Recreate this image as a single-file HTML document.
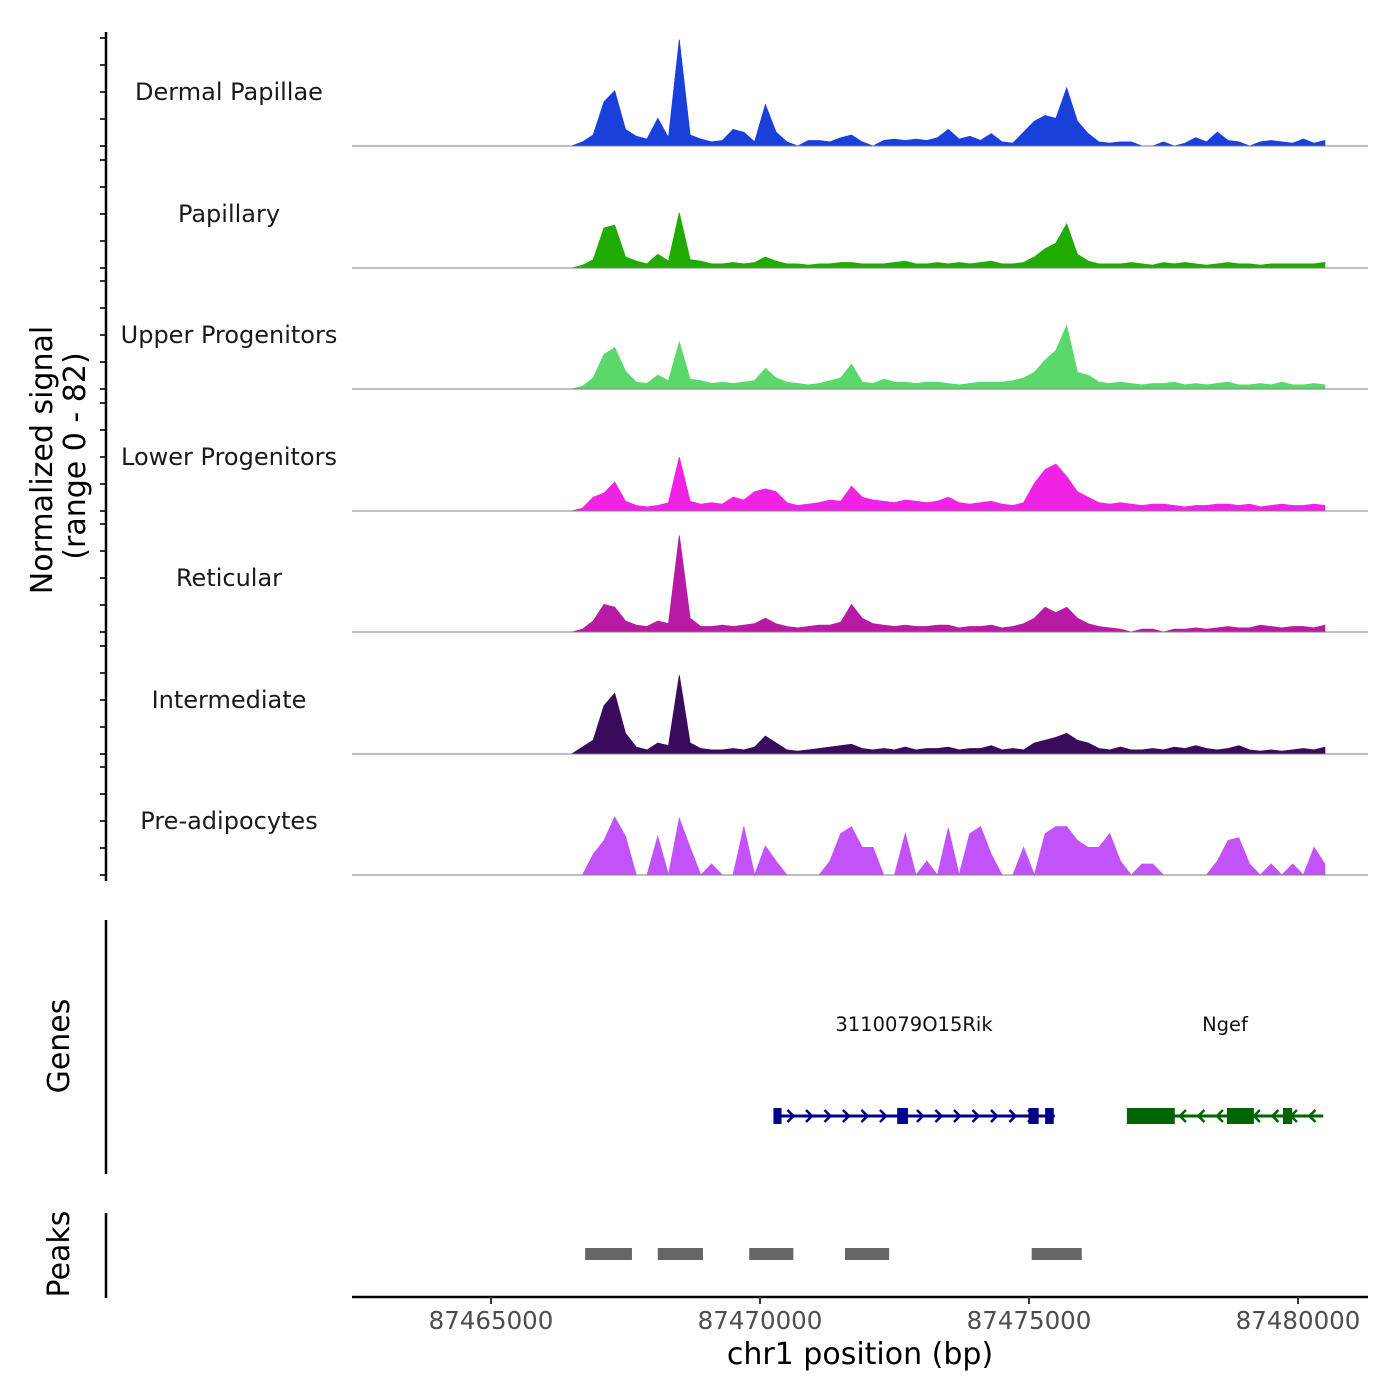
<!DOCTYPE html>
<html><head><meta charset="utf-8"><style>
body{margin:0;background:#fff}
svg{display:block;font-family:"DejaVu Sans","Liberation Sans",sans-serif}
</style></head><body>
<svg id="chart" width="1400" height="1400" viewBox="0 0 1400 1400" xmlns="http://www.w3.org/2000/svg">
<g id="tracks"></g>
<g id="genes"></g>
<g id="peaks"></g>
<g id="axes"></g>
</svg>
<script>
const trackNames = ["Dermal Papillae","Papillary","Upper Progenitors","Lower Progenitors","Reticular","Intermediate","Pre-adipocytes"];
const trackColors = ["#1a40dc","#1fab00","#5ad86a","#f022e6","#b81aa6","#3a0b5c","#c253fb"];
const binStart = 87466500;
const binSize = 200;
const dermal = [0,3,8,32,40,12,7,5,20,6,77,8,5,3,4,12,10,3,30,10,3,0,4,4,3,6,8,3,0,4,5,4,5,4,6,12,5,7,4,9,3,2,10,18,22,20,42,18,9,3,2,3,3,0,0,3,0,2,6,3,10,4,3,0,3,4,3,2,5,2,4];
const papillary = [0,2,6,29,31,8,5,3,10,5,40,6,5,3,3,4,3,4,8,5,3,3,2,3,3,4,4,3,3,3,4,5,3,3,4,3,4,3,4,5,3,3,4,8,14,18,32,10,5,3,3,3,4,3,2,4,3,4,3,2,3,4,3,3,2,3,3,3,3,3,4];
const upper = [0,2,8,25,30,13,5,4,10,6,34,7,6,4,5,4,5,6,15,8,5,4,3,4,6,8,18,5,4,7,5,5,4,5,5,4,3,4,5,5,5,6,8,12,21,28,46,12,10,5,4,5,4,3,4,4,5,3,4,3,4,5,3,3,4,3,5,3,3,4,3];
const lower = [0,2,10,13,21,7,4,3,4,6,39,7,5,6,5,10,8,14,16,14,6,4,5,6,8,7,18,10,8,7,6,8,7,6,7,10,6,5,6,7,5,4,6,20,30,34,25,14,10,6,5,6,5,4,5,5,4,3,4,4,5,5,4,5,3,4,5,4,4,5,4];
const reticular = [0,2,8,20,18,8,5,4,8,6,70,10,4,4,5,4,5,6,10,6,4,3,4,5,5,7,20,10,6,5,4,5,4,4,5,5,3,4,4,5,3,4,6,10,18,14,18,10,6,4,3,2,0,2,2,0,2,2,3,2,3,4,3,3,5,4,3,4,4,3,5];
const intermediate = [0,5,10,35,44,15,5,3,8,6,57,8,4,3,3,4,3,5,13,8,3,2,3,4,5,6,7,4,3,4,3,5,3,4,4,5,3,4,4,6,3,4,3,8,10,12,15,10,8,4,3,5,3,3,4,3,5,4,6,4,3,4,6,3,2,3,2,3,4,3,5];
const preadipocytes = [0,0,15,25,42,28,0,0,28,0,41,20,0,8,0,0,35,0,21,10,0,0,0,0,10,30,35,20,20,0,0,30,0,10,0,34,0,30,35,15,0,0,20,0,30,35,35,25,20,20,30,10,0,8,8,0,0,0,0,0,10,25,27,8,0,8,0,8,0,20,8];
const trackData = [dermal,papillary,upper,lower,reticular,intermediate,preadipocytes];
const xTicks = [87465000,87470000,87475000,87480000];
const xTickLabels = ["87465000","87470000","87475000","87480000"];
const geneNames = ["3110079O15Rik","Ngef"];
const geneStart = [87470250,87476820];
const geneEnd = [87475480,87480470];
const geneStrand = [1,-1];
const exonStart = [[87470250,87472550,87474990,87475300],[87476820,87478680,87479720]];
const exonEnd = [[87470400,87472750,87475180,87475460],[87477710,87479180,87479890]];
const peakStart = [87466750,87468100,87469800,87471580,87475050];
const peakEnd = [87467620,87468940,87470620,87472400,87475980];

const NS="http://www.w3.org/2000/svg";
function mk(tag,attrs,parent){const e=document.createElementNS(NS,tag);for(const k in attrs)e.setAttribute(k,attrs[k]);parent.appendChild(e);return e;}
const X0=352,X1=1368;
function xs(bp){return 491+(bp-87465000)*(269/5000);}
const baselines=[146,268,389,511,632,754,875];
const yPerUnit=1.38;
function ys(v,b){return b-v*yPerUnit;}

const tracks=document.getElementById('tracks');
trackData.forEach((arr,t)=>{
  const b=baselines[t];
  let d="M"+xs(binStart).toFixed(1)+","+b;
  arr.forEach((v,i)=>{d+=" L"+xs(binStart+binSize*i).toFixed(1)+","+ys(v,b).toFixed(1);});
  d+=" L"+xs(binStart+binSize*(arr.length-1)).toFixed(1)+","+b+" Z";
  const p=mk('path',{d:d,fill:trackColors[t],stroke:trackColors[t],'stroke-width':0.8},tracks);
  
  
  const bl=mk('line',{x1:X0,x2:X1,y1:b,y2:b,stroke:'#7f7f7f','stroke-width':1},tracks);
  
  
  const lab=mk('text',{x:229,y:b-46,'text-anchor':'middle','font-size':24,fill:'#1a1a1a'},tracks);
  lab.textContent=trackNames[t];
  
  
  for(let k=0;k<=4;k++){
    const y=b-k*20*1.35;
    const tk=mk('line',{x1:100,x2:106,y1:y,y2:y,stroke:'#333','stroke-width':2},tracks);
    
    
  }
});

const genes=document.getElementById('genes');
const gy=1116;
const gcol=["#00008b","#006400"];
geneNames.forEach((g,i)=>{
  const x1=xs(geneStart[i]),x2=xs(geneEnd[i]),c=gcol[i];
  const ln=mk('line',{x1:x1,x2:x2,y1:gy,y2:gy,stroke:c,'stroke-width':3},genes);
  
  
  for(let x=x1+18;x<x2-4;x+=18.5){
    const s=geneStrand[i];
    const ch=mk('path',{d:`M${x-4*s},${gy-6} L${x+2*s},${gy} L${x-4*s},${gy+6}`,stroke:c,fill:'none','stroke-width':2.5},genes);
    
    
  }
  exonStart[i].forEach((es,j)=>{
    const ex=mk('rect',{x:xs(es),y:gy-8,width:xs(exonEnd[i][j])-xs(es),height:16,fill:c},genes);
    
    
  });
  const t=mk('text',{x:(i==0?914:1225),y:1031,'text-anchor':'middle','font-size':19.5,fill:'#111'},genes);
  t.textContent=g;
  
  
});

const peaks=document.getElementById('peaks');
peakStart.forEach((s,i)=>{
  const r=mk('rect',{x:xs(s),y:1248,width:xs(peakEnd[i])-xs(s),height:12,fill:'#666'},peaks);
  
  
});

const axes=document.getElementById('axes');
[[32,881],[920,1174],[1213,1298]].forEach(([a,b])=>{
  const l=mk('line',{x1:106,x2:106,y1:a,y2:b,stroke:'#000','stroke-width':2.5},axes);
  
  
});
const xa=mk('line',{x1:X0,x2:X1,y1:1297,y2:1297,stroke:'#000','stroke-width':2.5},axes);


xTicks.forEach((v,i)=>{
  const x=xs(v);
  const tk=mk('line',{x1:x,x2:x,y1:1297,y2:1304,stroke:'#333','stroke-width':2},axes);
  
  
  const t=mk('text',{x:x,y:1329,'text-anchor':'middle','font-size':24.5,fill:'#4d4d4d'},axes);
  t.textContent=xTickLabels[i];
  
  
});
const xt=mk('text',{x:860,y:1364,'text-anchor':'middle','font-size':30,fill:'#000'},axes);
xt.textContent="chr1 position (bp)";


function vtext(txt,x,y,name){
  const t=mk('text',{x:0,y:0,transform:`translate(${x},${y}) rotate(-90)`,'text-anchor':'middle','font-size':30,fill:'#000'},axes);
  t.textContent=txt;
  
  
}
vtext("Normalized signal",52,460,'y-axis-title');
vtext("(range 0 - 82)",85,456,'y-axis-subtitle');
vtext("Genes",69,1046,'genes-axis-title');
vtext("Peaks",69,1254,'peaks-axis-title');
</script>
</body></html>
